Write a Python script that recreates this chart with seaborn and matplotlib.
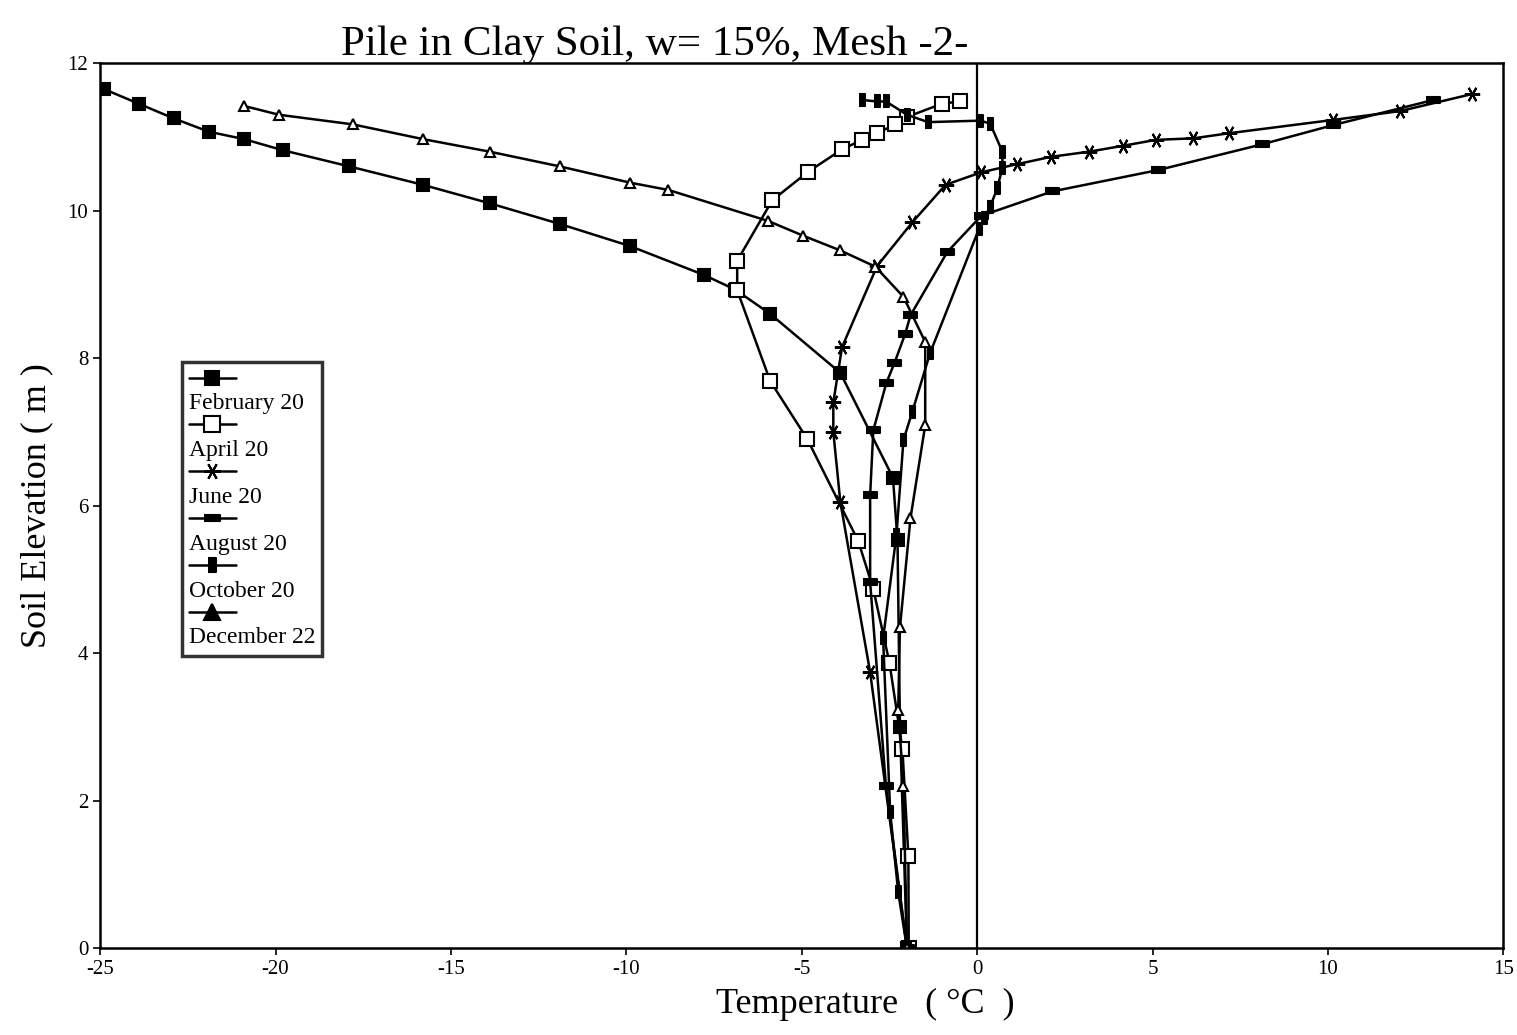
import numpy as np
import pandas as pd
import matplotlib
matplotlib.use("Agg")
import matplotlib.pyplot as plt
from matplotlib.lines import Line2D
import seaborn as sns

# temperature (C) / elevation (m)
feb_t = [-24.9, -23.9, -22.9, -21.9, -20.9, -19.8, -17.9, -15.8, -13.9, -11.9, -9.9, -7.8, -6.9, -5.9, -3.9, -2.4, -2.27, -2.2, -2.0]
feb_e = [11.65, 11.45, 11.25, 11.07, 10.97, 10.82, 10.6, 10.35, 10.1, 9.82, 9.52, 9.13, 8.93, 8.6, 7.8, 6.38, 5.53, 3.0, 0.0]

apr_t = [-0.5, -1.0, -2.0, -2.33, -2.85, -3.28, -3.85, -4.81, -5.84, -6.84, -6.84, -5.9, -4.84, -3.39, -2.96, -2.5, -2.13, -1.96, -1.95]
apr_e = [11.48, 11.45, 11.27, 11.17, 11.05, 10.96, 10.83, 10.53, 10.14, 9.32, 8.92, 7.69, 6.9, 5.52, 4.87, 3.87, 2.7, 1.25, 0.0]

jun_t = [14.1, 12.06, 10.15, 7.19, 6.16, 5.1, 4.17, 3.2, 2.11, 1.14, 0.12, -0.9, -1.85, -2.85, -3.85, -4.1, -4.1, -3.9, -3.05, -2.0]
jun_e = [11.58, 11.35, 11.23, 11.05, 10.98, 10.96, 10.88, 10.8, 10.73, 10.63, 10.52, 10.35, 9.84, 9.25, 8.15, 7.4, 7.0, 6.05, 3.74, 0.0]

aug_t = [13.0, 10.15, 8.13, 5.16, 2.14, 0.12, -0.85, -1.9, -2.05, -2.36, -2.59, -2.96, -3.05, -3.05, -2.6, -2.0]
aug_e = [11.5, 11.16, 10.9, 10.55, 10.26, 9.93, 9.44, 8.58, 8.33, 7.93, 7.66, 7.02, 6.14, 4.96, 2.2, 0.0]

oct_t = [-3.27, -2.85, -2.6, -2.0, -1.4, 0.09, 0.37, 0.72, 0.72, 0.57, 0.37, 0.2, 0.05, -1.34, -1.85, -2.1, -2.3, -2.68, -2.48, -2.25, -2.0]
oct_e = [11.5, 11.48, 11.48, 11.3, 11.2, 11.22, 11.18, 10.8, 10.58, 10.3, 10.05, 9.9, 9.75, 8.07, 7.27, 6.89, 5.6, 4.2, 1.85, 0.76, 0.0]

dec_t = [-20.9, -19.9, -17.8, -15.8, -13.9, -11.9, -9.9, -8.8, -5.96, -4.96, -3.9, -2.9, -2.1, -1.48, -1.48, -1.9, -2.2, -2.25, -2.1, -2.0]
dec_e = [11.42, 11.3, 11.17, 10.97, 10.8, 10.6, 10.38, 10.28, 9.86, 9.66, 9.46, 9.24, 8.83, 8.22, 7.09, 5.83, 4.35, 3.23, 2.2, 0.0]

dates = ["February 20", "April 20", "June 20", "August 20", "October 20", "December 22"]
temps = [feb_t, apr_t, jun_t, aug_t, oct_t, dec_t]
elevs = [feb_e, apr_e, jun_e, aug_e, oct_e, dec_e]

df = pd.concat([pd.DataFrame({"Temperature": t, "Elevation": e, "Date": d})
                for t, e, d in zip(temps, elevs, dates)], ignore_index=True)

hbar = [(-1.6, -0.6), (1.6, -0.6), (1.6, 0.6), (-1.6, 0.6)]
vbar = [(-0.55, -1.0), (0.55, -1.0), (0.55, 1.0), (-0.55, 1.0)]
markers = {
    "February 20": "s",
    "April 20": "s",
    "June 20": (6, 2, 90),
    "August 20": hbar,
    "October 20": vbar,
    "December 22": "^",
}
msize = {"February 20": 9, "April 20": 10, "June 20": 11, "August 20": 10, "October 20": 9, "December 22": 7}
mface = {"February 20": "black", "April 20": "white", "June 20": "black", "August 20": "black",
         "October 20": "black", "December 22": "white"}

sns.set_theme(style="ticks")
plt.rcParams["font.family"] = ["Liberation Serif", "DejaVu Serif"]
plt.rcParams["axes.unicode_minus"] = False
plt.rcParams["text.color"] = "black"
plt.rcParams["axes.labelcolor"] = "black"
plt.rcParams["xtick.color"] = "black"
plt.rcParams["ytick.color"] = "black"

fig = plt.figure(figsize=(15.17, 10.35), dpi=100)
ax = fig.add_axes([0.066, 0.084, 0.925, 0.855])

for d in dates:
    sub = df[df["Date"] == d]
    sns.lineplot(data=sub, x="Temperature", y="Elevation", sort=False, estimator=None,
                 color="black", lw=1.8, marker=markers[d], markersize=msize[d],
                 markerfacecolor=mface[d], markeredgecolor="black", markeredgewidth=1.5,
                 ax=ax, legend=False)

ax.axvline(0, color="black", lw=1.6, zorder=1)

ax.set_xlim(-25, 15)
ax.set_ylim(0, 12)
ax.set_xticks(range(-25, 16, 5))
ax.set_yticks(range(0, 13, 2))
ax.tick_params(labelsize=15, direction="out", length=5, width=1.2, colors="black")
for s in ax.spines.values():
    s.set_linewidth(1.8)
    s.set_color("black")

ax.set_title("Pile in Clay Soil, w= 15%, Mesh -2-", fontsize=31, x=0.395, y=1.0, pad=6, color="black")
ax.set_xlabel("Temperature   ( \u00b0C  )", fontsize=26, labelpad=2)
ax.xaxis.set_label_coords(0.545, -0.045)
ax.set_ylabel("Soil Elevation ( m )", fontsize=26, labelpad=10)

# legend: line sample on one row, name on the next
handles, labels = [], []
for d in dates:
    handles.append(Line2D([], [], color="black", lw=1.8, marker=markers[d],
                          markersize=msize[d] + (4 if d == "December 22" else 1),
                          markerfacecolor="black" if d != "April 20" else "white",
                          markeredgecolor="black", markeredgewidth=1.5))
    labels.append(" ")
    handles.append(Line2D([], [], linestyle="none"))
    labels.append(d)
leg = ax.legend(handles, labels, loc="upper left", bbox_to_anchor=(0.058, 0.662),
                fontsize=17, handlelength=2.0, handletextpad=-2.0, labelspacing=0.08,
                borderpad=0.3, frameon=True, fancybox=False, borderaxespad=0)
leg.get_frame().set_edgecolor("black")
leg.get_frame().set_linewidth(2.5)
for t in leg.get_texts():
    t.set_color("black")

fig.savefig("out.png", dpi=100)
